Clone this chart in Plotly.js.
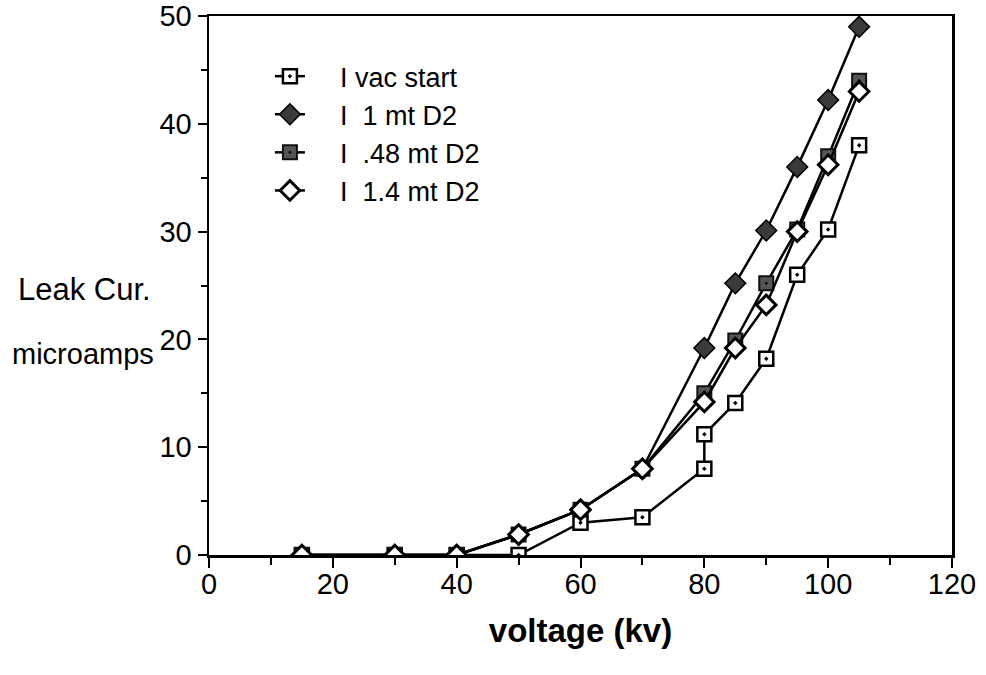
<!DOCTYPE html>
<html>
<head>
<meta charset="utf-8">
<script src="https://cdn.plot.ly/plotly-3.0.1.min.js"></script>
<style>html,body{margin:0;padding:0;background:#fff;}</style>
</head>
<body>
<div id="chart" style="width:986px;height:675px;"></div>
<script>
// Data
var xVac = [15, 30, 40, 50, 60, 70, 80, 80, 85, 90, 95, 100, 105];
var yVac = [0, 0, 0, 0, 3.0, 3.5, 8.0, 11.2, 14.1, 18.2, 26.0, 30.2, 38.0];

var xGas = [15, 30, 40, 50, 60, 70, 80, 85, 90, 95, 100, 105];
var y1mt = [0, 0, 0, 1.9, 4.2, 8.0, 19.2, 25.2, 30.1, 36.0, 42.2, 49.0];
var y048mt = [0, 0, 0, 1.9, 4.2, 8.0, 15.0, 19.9, 25.2, 30.2, 37.0, 44.0];
var y14mt = [0, 0, 0, 1.9, 4.2, 8.0, 14.2, 19.2, 23.2, 30.0, 36.2, 43.0];

var seriesNames = ["I vac start", "I  1 mt D2", "I  .48 mt D2", "I  1.4 mt D2"];

var xTicks = [0, 20, 40, 60, 80, 100, 120];
var yTicks = [0, 10, 20, 30, 40, 50];

function label(s) { return "\u00a0\u00a0\u00a0\u00a0" + s.replace(/ /g, "\u00a0"); }

var lineStyle = {color: "#000", width: 2.5};

var traces = [
  {x: xVac, y: yVac, name: label(seriesNames[0]), mode: "lines+markers", line: lineStyle,
   marker: {symbol: "square-dot", size: 14, color: "#fff", line: {color: "#000", width: 2.5}}},
  {x: xGas, y: y1mt, name: label(seriesNames[1]), mode: "lines+markers", line: lineStyle,
   marker: {symbol: "diamond", size: 16, color: "#3a3a3a", line: {color: "#000", width: 1.5}}},
  {x: xGas, y: y048mt, name: label(seriesNames[2]), mode: "lines+markers", line: lineStyle,
   marker: {symbol: "square-dot", size: 14, color: "#555", line: {color: "#111", width: 2}}},
  {x: xGas, y: y14mt, name: label(seriesNames[3]), mode: "lines+markers", line: lineStyle,
   marker: {symbol: "diamond", size: 15, color: "#fff", line: {color: "#000", width: 3}}}
];

var ff = "Liberation Sans, Arial, sans-serif";

var layout = {
  width: 986, height: 675,
  margin: {l: 209, r: 34, t: 16, b: 120},
  paper_bgcolor: "#fff", plot_bgcolor: "#fff",
  font: {family: ff, size: 28, color: "#000"},
  showlegend: true,
  legend: {x: 0.082, y: 0.933, xanchor: "left", yanchor: "top", bgcolor: "rgba(0,0,0,0)",
           font: {family: ff, size: 27, color: "#000"}, traceorder: "normal"},
  xaxis: {
    range: [0, 120], tickvals: xTicks, ticktext: xTicks.map(String),
    ticks: "outside", ticklen: 10, tickwidth: 2, tickcolor: "#000",
    minor: {dtick: 10, ticks: "outside", ticklen: 7, tickwidth: 2, tickcolor: "#000"},
    showline: true, linecolor: "#000", linewidth: 2.5, mirror: true,
    showgrid: false, zeroline: false,
    ticklabelstandoff: -8,
    tickfont: {family: ff, size: 29, color: "#000"},
    title: {text: "<b>voltage (kv)</b>", standoff: 20, font: {family: ff, size: 33, color: "#000"}}
  },
  yaxis: {
    range: [0, 50], tickvals: yTicks, ticktext: yTicks.map(String),
    ticks: "outside", ticklen: 9, tickwidth: 2, tickcolor: "#000",
    minor: {dtick: 5, ticks: "outside", ticklen: 6, tickwidth: 2, tickcolor: "#000"},
    showline: true, linecolor: "#000", linewidth: 2.5, mirror: true,
    showgrid: false, zeroline: false,
    ticklabelstandoff: 0,
    tickfont: {family: ff, size: 29, color: "#000"}
  },
  annotations: [
    {text: "Leak Cur.", xref: "paper", yref: "paper", x: -0.075, y: 0.4935, xanchor: "right", yanchor: "middle",
     showarrow: false, font: {family: ff, size: 31, color: "#000"}},
    {text: "microamps", xref: "paper", yref: "paper", x: -0.072, y: 0.372, xanchor: "right", yanchor: "middle",
     showarrow: false, font: {family: ff, size: 29, color: "#000"}}
  ]
};

Plotly.newPlot("chart", traces, layout, {displayModeBar: false, staticPlot: true});
</script>
</body>
</html>
